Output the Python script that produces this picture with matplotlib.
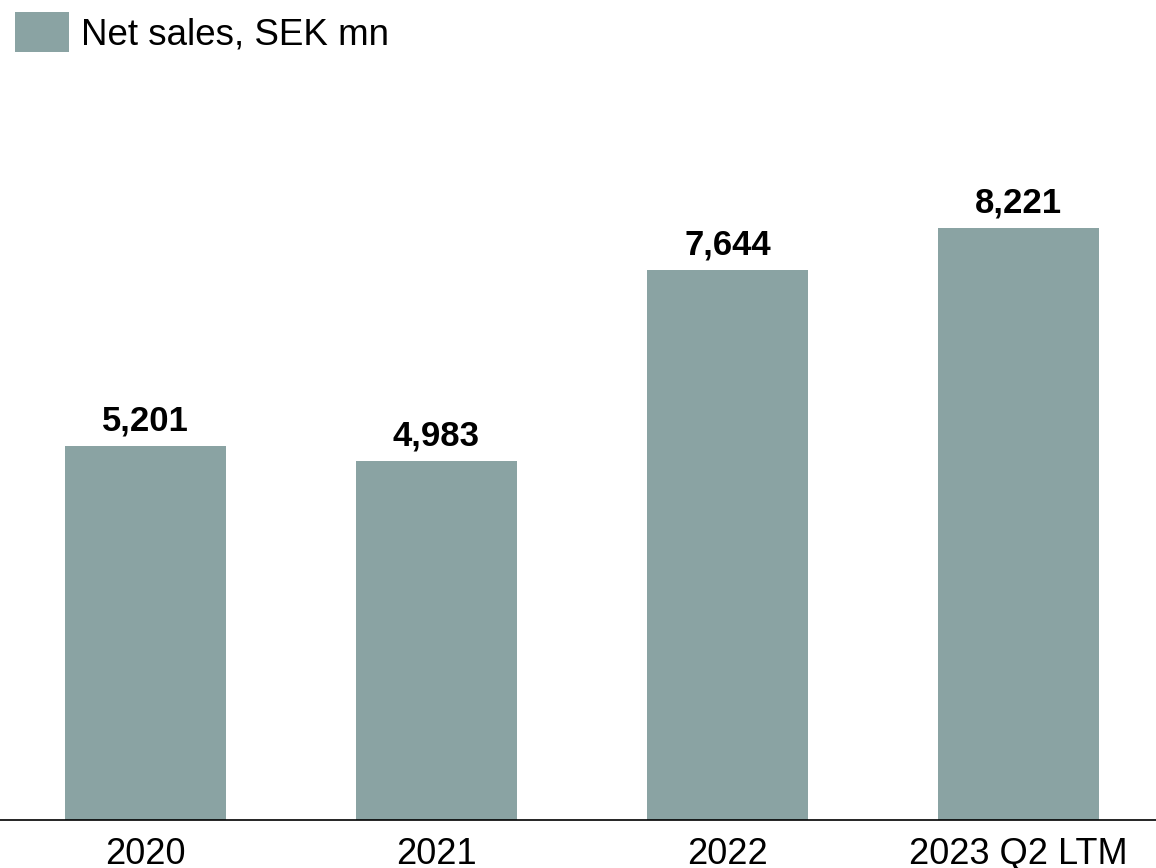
import matplotlib.pyplot as plt
import numpy as np

plt.rcParams['font.family'] = ['Liberation Sans', 'DejaVu Sans']

categories = ['2020', '2021', '2022', '2023 Q2 LTM']
net_sales = [5201, 4983, 7644, 8221]
bar_color = '#8aa3a3'

fig = plt.figure(figsize=(11.56, 8.68), dpi=100)
ax = fig.add_axes([0, 48 / 868, 1, 720 / 868])

x = np.arange(len(categories))
bars = ax.bar(x, net_sales, width=0.553, color=bar_color, label='Net sales, SEK mn')

for xi, v in zip(x, net_sales):
    ax.annotate(f'{v:,}', (xi, v), xytext=(0, 6), textcoords='offset points',
                ha='center', va='bottom', fontsize=25, fontweight='bold')

ax.set_xlim(-0.5, 3.473)
ax.set_ylim(0, 10000)
ax.set_xticks(x)
ax.set_xticklabels(categories, fontsize=26)
ax.tick_params(axis='x', length=0, pad=12)
ax.set_yticks([])
for s in ['top', 'right', 'left']:
    ax.spines[s].set_visible(False)
ax.spines['bottom'].set_linewidth(1.2)

fig.legend(handles=[bars], loc='upper left', bbox_to_anchor=(-0.006, 1.012),
           frameon=False, fontsize=26.5, handlelength=1.45, handleheight=1.3,
           handletextpad=0.35, borderaxespad=0.2)

fig.savefig('out.png', dpi=100)
